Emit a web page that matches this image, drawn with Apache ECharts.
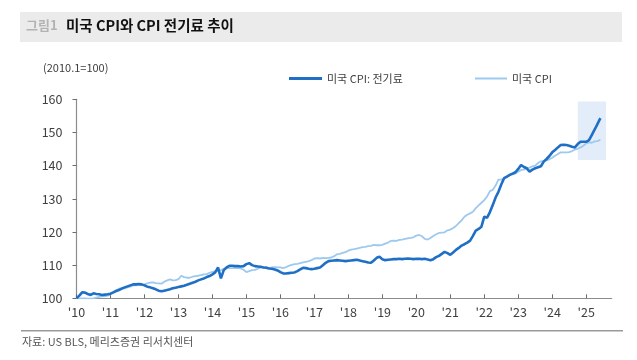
<!DOCTYPE html>
<html>
<head>
<meta charset="utf-8">
<script src="https://cdn.jsdelivr.net/npm/echarts@6/dist/echarts.min.js"></script>
<style>
html,body{margin:0;padding:0;background:#fff;}
#chart{width:637px;height:360px;}
</style>
</head>
<body>
<div id="chart"></div>
<script>
// Monthly series, Jan 2010 .. Jun 2025 (2010.1 = 100)
const electricityCPI = [
  100.0, 100.8, 101.8, 101.7, 101.3, 101.0, 101.5, 101.3, 101.2, 101.0, 101.1, 101.2,
  101.4, 101.8, 102.2, 102.5, 102.9, 103.3, 103.6, 103.9, 104.2, 104.2, 104.3, 104.2,
  103.9, 103.5, 103.3, 103.0, 102.7, 102.3, 102.1, 102.3, 102.5, 102.7, 103.0, 103.2,
  103.4, 103.6, 103.8, 104.1, 104.4, 104.7, 105.0, 105.4, 105.7, 106.0, 106.4, 106.7,
  107.2, 107.8, 109.3, 106.0, 108.5, 109.3, 109.8, 109.8, 109.7, 109.7, 109.6, 109.7,
  110.3, 110.6, 110.0, 109.7, 109.6, 109.5, 109.3, 109.2, 109.0, 108.9, 108.7, 108.4,
  107.9, 107.5, 107.5, 107.6, 107.7, 107.8, 108.2, 108.7, 109.2, 109.1, 108.9, 108.8,
  108.9, 109.1, 109.3, 110.0, 110.7, 111.2, 111.3, 111.4, 111.5, 111.4, 111.3, 111.2,
  111.3, 111.4, 111.5, 111.6, 111.4, 111.2, 111.0, 110.8, 110.7, 111.4, 112.2, 112.5,
  111.8, 111.5, 111.6, 111.7, 111.8, 111.8, 111.9, 111.8, 111.9, 112.0, 111.9, 111.8,
  111.9, 111.9, 111.8, 111.9, 111.7, 111.5, 111.8, 112.4, 112.8, 113.4, 114.0, 113.6,
  113.1, 113.8, 114.6, 115.2, 115.9, 116.3, 116.8, 117.4, 118.8, 120.4, 120.9, 121.6,
  124.6, 124.3, 126.0, 128.1, 130.4, 132.1, 134.3, 136.2, 136.7, 137.2, 137.6, 138.0,
  139.0, 140.2, 139.6, 139.2, 138.2, 138.8, 139.2, 139.5, 139.8, 141.2, 142.0, 142.9,
  144.0, 144.7, 145.5, 146.2, 146.3, 146.2, 146.0, 145.7, 145.5, 146.5, 147.2, 147.2,
  147.2, 147.7, 149.3, 150.9, 152.6, 154.3
];
const headlineCPI = [
  100.0, 99.9, 100.0, 100.0, 99.9, 99.9, 100.0, 100.2, 100.4, 100.6, 100.6, 100.8,
  101.2, 101.7, 102.4, 102.9, 103.1, 103.0, 103.3, 103.5, 103.9, 103.9, 104.0, 104.0,
  104.2, 104.5, 104.7, 104.8, 104.6, 104.5, 104.4, 105.0, 105.4, 105.7, 105.4, 105.5,
  105.8, 106.8, 106.4, 106.2, 106.2, 106.5, 106.7, 106.8, 107.0, 107.2, 107.3, 107.7,
  108.0, 108.2, 108.3, 108.5, 108.9, 109.1, 109.1, 109.1, 109.1, 109.1, 109.0, 108.6,
  107.9, 108.2, 108.5, 108.6, 108.9, 109.3, 109.4, 109.4, 109.1, 109.3, 109.4, 109.3,
  109.3, 109.1, 109.4, 109.8, 110.1, 110.3, 110.4, 110.6, 110.8, 111.0, 111.2, 111.5,
  112.0, 112.1, 112.0, 112.2, 112.1, 112.2, 112.3, 112.7, 113.3, 113.4, 113.7, 113.9,
  114.4, 114.7, 114.8, 115.0, 115.2, 115.4, 115.5, 115.7, 115.8, 116.1, 116.0, 116.0,
  116.1, 116.5, 116.8, 117.3, 117.4, 117.3, 117.6, 117.7, 117.9, 118.1, 118.2, 118.4,
  118.9, 119.1, 118.7, 117.9, 117.7, 118.2, 118.8, 119.3, 119.7, 119.8, 119.9, 120.5,
  120.7, 121.2, 121.8, 122.7, 123.5, 124.6, 125.2, 125.6, 126.1, 127.2, 128.0, 128.8,
  129.6, 130.7, 132.3, 132.7, 134.0, 135.8, 135.8, 136.2, 136.6, 137.3, 137.4, 137.6,
  138.2, 138.7, 138.8, 139.3, 139.4, 139.8, 140.0, 140.8, 141.3, 141.4, 141.6, 141.9,
  142.4, 143.0, 143.5, 144.0, 144.0, 144.0, 144.1, 144.4, 144.8, 145.1, 145.5, 146.0,
  146.7, 147.0, 146.9, 147.3, 147.4, 147.8
];
const yearLabels = ["'10","'11","'12","'13","'14","'15","'16","'17","'18","'19","'20","'21","'22","'23","'24","'25"];
const seriesNames = ['미국 CPI: 전기료', '미국 CPI'];
const yTicks = [100, 110, 120, 130, 140, 150, 160];
// highlighted window (month index from Jan 2010, index value)
const highlightX = [177, 187];
const highlightY = [141.7, 159.3];

const FONT = '"Noto Sans CJK KR", "Noto Sans", sans-serif';
const yearTickPos = yearLabels.map((_, i) => i * 12);

const chart = echarts.init(document.getElementById('chart'), null, {renderer: 'canvas'});
chart.setOption({
  animation: false,
  backgroundColor: '#ffffff',
  textStyle: {fontFamily: FONT},
  grid: {left: 76.5, right: 25.3, top: 99.3, bottom: 61.7, containLabel: false},
  legend: [
    {data: [seriesNames[0]], left: 284, top: 68, itemWidth: 33, itemHeight: 3, icon: 'rect',
     itemStyle: {color: '#1f6fc5'}, textStyle: {fontSize: 11, color: '#404040', fontFamily: FONT}},
    {data: [seriesNames[1]], left: 470, top: 68, itemWidth: 32, itemHeight: 2, icon: 'rect',
     itemStyle: {color: '#9dc9ef'}, textStyle: {fontSize: 11, color: '#404040', fontFamily: FONT}}
  ],
  xAxis: {
    type: 'value', min: 0, max: 189, interval: 12,
    axisLine: {show: true, lineStyle: {color: '#8c8c8c', width: 1.2}},
    axisTick: {show: true, inside: true, length: 4, lineStyle: {color: '#6c6c6c'}, customValues: yearTickPos},
    axisLabel: {
      customValues: yearTickPos,
      formatter: v => yearLabels[Math.round(v / 12)] || '',
      fontSize: 12.5, color: '#404040', margin: 8, fontFamily: FONT
    },
    splitLine: {show: false}
  },
  yAxis: {
    type: 'value', min: 100, max: 160, interval: 10,
    axisLine: {show: true, lineStyle: {color: '#8c8c8c', width: 1.2}},
    axisTick: {show: true, inside: false, length: 4, lineStyle: {color: '#6c6c6c'}},
    axisLabel: {fontSize: 12.5, color: '#404040', margin: 14, fontFamily: FONT,
      formatter: v => yTicks.indexOf(v) >= 0 ? String(v) : ''},
    splitLine: {show: false}
  },
  graphic: [
    {type: 'rect', shape: {x: 20, y: 12, width: 602, height: 30}, style: {fill: '#ebebeb'}, silent: true, z: -1},
    {type: 'text', left: 26, top: 19, style: {text: '그림1', font: 'bold 13px ' + FONT, fill: '#b3b3b3'}},
    {type: 'text', left: 66, top: 18, style: {text: '미국 CPI와 CPI 전기료 추이', font: 'bold 14.5px ' + FONT, fill: '#111111'}},
    {type: 'text', left: 43, top: 62, style: {text: '(2010.1=100)', font: '11px ' + FONT, fill: '#404040'}},
    {type: 'line', shape: {x1: 21, y1: 330.7, x2: 623, y2: 330.7}, style: {stroke: '#9a9a9a', lineWidth: 1.5}},
    {type: 'text', left: 22, top: 336, style: {text: '자료: US BLS, 메리츠증권 리서치센터', font: '11px ' + FONT, fill: '#555555'}}
  ],
  series: [
    {
      name: seriesNames[1], type: 'line', showSymbol: false, symbol: 'none',
      data: headlineCPI.map((v, i) => [i, v]),
      lineStyle: {color: '#9dc9ef', width: 1.8}, itemStyle: {color: '#9dc9ef'}, z: 2,
      markArea: {
        silent: true,
        itemStyle: {color: '#e3edf9'},
        data: [[{xAxis: highlightX[0], yAxis: highlightY[0]}, {xAxis: highlightX[1], yAxis: highlightY[1]}]]
      }
    },
    {
      name: seriesNames[0], type: 'line', showSymbol: false, symbol: 'none',
      data: electricityCPI.map((v, i) => [i, v]),
      lineStyle: {color: '#1f6fc5', width: 2.6}, itemStyle: {color: '#1f6fc5'}, z: 3
    }
  ]
});
</script>
</body>
</html>
